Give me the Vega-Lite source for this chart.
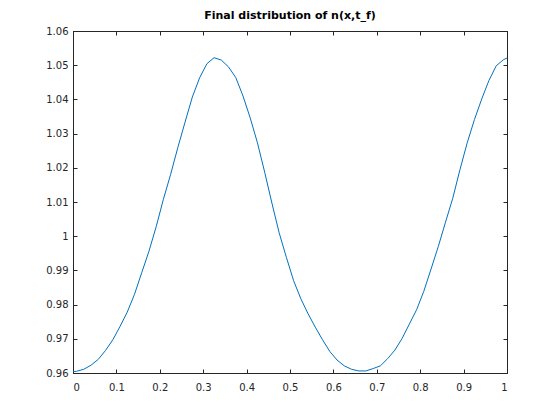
{
  "$schema": "https://vega.github.io/schema/vega-lite/v6.json",
  "width": 434,
  "height": 342,
  "autosize": "none",
  "padding": {"left": 73, "top": 31, "right": 53, "bottom": 47},
  "background": "white",
  "config": {
    "font": "DejaVu Sans",
    "view": {"stroke": "#262626", "strokeWidth": 1},
    "axis": {"grid": false, "domainColor": "#262626", "tickColor": "#262626", "labelColor": "#262626", "labelFont": "DejaVu Sans", "labelFontSize": 10, "tickSize": -4, "domainWidth": 1, "tickWidth": 1, "title": null}
  },
  "title": {"text": "Final distribution of n(x,t_f)", "fontSize": 11, "fontWeight": "bold", "color": "#000000", "font": "DejaVu Sans", "offset": 5, "anchor": "middle"},
  "data": {"values": [
    {"x": 0, "n": 0.9604}, {"x": 0.0083, "n": 0.9605}, {"x": 0.025, "n": 0.9611}, {"x": 0.0417, "n": 0.9623},
    {"x": 0.0583, "n": 0.964}, {"x": 0.075, "n": 0.9666}, {"x": 0.0917, "n": 0.9697}, {"x": 0.1083, "n": 0.9736},
    {"x": 0.125, "n": 0.9778}, {"x": 0.1417, "n": 0.983}, {"x": 0.1583, "n": 0.9893}, {"x": 0.175, "n": 0.9956},
    {"x": 0.1917, "n": 1.0028}, {"x": 0.2083, "n": 1.0108}, {"x": 0.225, "n": 1.0181}, {"x": 0.2417, "n": 1.026},
    {"x": 0.2583, "n": 1.0334}, {"x": 0.275, "n": 1.0407}, {"x": 0.2917, "n": 1.0463}, {"x": 0.3083, "n": 1.0504},
    {"x": 0.325, "n": 1.0522}, {"x": 0.3417, "n": 1.0515}, {"x": 0.3583, "n": 1.0495}, {"x": 0.375, "n": 1.0464},
    {"x": 0.3917, "n": 1.041}, {"x": 0.4083, "n": 1.0346}, {"x": 0.425, "n": 1.0273}, {"x": 0.4417, "n": 1.0187},
    {"x": 0.4583, "n": 1.0097}, {"x": 0.475, "n": 1.001}, {"x": 0.4917, "n": 0.9938}, {"x": 0.5083, "n": 0.987},
    {"x": 0.525, "n": 0.9817}, {"x": 0.5417, "n": 0.9773}, {"x": 0.5583, "n": 0.9734}, {"x": 0.575, "n": 0.9697},
    {"x": 0.5917, "n": 0.9663}, {"x": 0.6083, "n": 0.9638}, {"x": 0.625, "n": 0.9621}, {"x": 0.6417, "n": 0.9611},
    {"x": 0.6583, "n": 0.9606}, {"x": 0.675, "n": 0.9606}, {"x": 0.6917, "n": 0.9613}, {"x": 0.7083, "n": 0.9621},
    {"x": 0.725, "n": 0.9642}, {"x": 0.7417, "n": 0.9667}, {"x": 0.7583, "n": 0.9701}, {"x": 0.775, "n": 0.9743},
    {"x": 0.7917, "n": 0.9785}, {"x": 0.8083, "n": 0.9839}, {"x": 0.825, "n": 0.9904}, {"x": 0.8417, "n": 0.997},
    {"x": 0.8583, "n": 1.0041}, {"x": 0.875, "n": 1.0111}, {"x": 0.8917, "n": 1.0195}, {"x": 0.9083, "n": 1.0273},
    {"x": 0.925, "n": 1.0341}, {"x": 0.9417, "n": 1.0401}, {"x": 0.9583, "n": 1.0455}, {"x": 0.975, "n": 1.0498},
    {"x": 0.9917, "n": 1.0516}, {"x": 1, "n": 1.0521}
  ]},
  "resolve": {"axis": {"x": "independent", "y": "independent"}},
  "layer": [
    {
      "mark": {"type": "line", "strokeOpacity": 0},
      "encoding": {
        "x": {"field": "x", "type": "quantitative", "scale": {"domain": [0, 1], "nice": false, "zero": false},
              "axis": {"orient": "top", "labels": false, "values": [0, 0.1, 0.2, 0.3, 0.4, 0.5, 0.6, 0.7, 0.8, 0.9, 1]}},
        "y": {"field": "n", "type": "quantitative", "scale": {"domain": [0.96, 1.06], "nice": false, "zero": false},
              "axis": {"orient": "right", "labels": false, "values": [0.96, 0.97, 0.98, 0.99, 1, 1.01, 1.02, 1.03, 1.04, 1.05, 1.06]}}
      }
    },
    {
      "mark": {"type": "line", "color": "#0072BD", "strokeWidth": 1},
      "encoding": {
        "x": {"field": "x", "type": "quantitative", "scale": {"domain": [0, 1], "nice": false, "zero": false},
              "axis": {"orient": "bottom", "format": "~g", "labelPadding": 13, "values": [0, 0.1, 0.2, 0.3, 0.4, 0.5, 0.6, 0.7, 0.8, 0.9, 1]}},
        "y": {"field": "n", "type": "quantitative", "scale": {"domain": [0.96, 1.06], "nice": false, "zero": false},
              "axis": {"orient": "left", "format": "~g", "labelPadding": 9, "values": [0.96, 0.97, 0.98, 0.99, 1, 1.01, 1.02, 1.03, 1.04, 1.05, 1.06]}}
      }
    }
  ]
}
